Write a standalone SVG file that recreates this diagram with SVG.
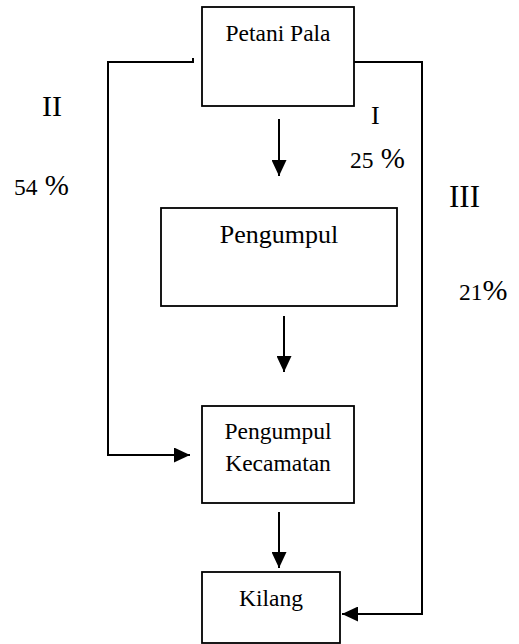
<svg xmlns="http://www.w3.org/2000/svg" width="519" height="644" viewBox="0 0 519 644">
<style>
  .box { fill: #fff; stroke: #000; stroke-width: 1.8; }
  .lbl { font-family: "Liberation Serif", Tinos, "Times New Roman", Times, "DejaVu Serif", "Noto Serif", serif; fill: #000; }
  .conn { fill: none; stroke: #000; stroke-width: 2; }
</style>
<defs>
  <marker id="ah" markerUnits="userSpaceOnUse" markerWidth="16" markerHeight="15" refX="16" refY="7.5" orient="auto">
    <path d="M0,0 L16,7.5 L0,15 z" fill="#000"/>
  </marker>
</defs>
<rect width="519" height="644" fill="#fff"/>
<g id="connectors">
  <line class="conn" x1="279" y1="119" x2="279" y2="176" marker-end="url(#ah)"/>
  <line class="conn" x1="284" y1="316" x2="284" y2="372" marker-end="url(#ah)"/>
  <line class="conn" x1="279" y1="512" x2="279" y2="568" marker-end="url(#ah)"/>
  <polyline class="conn" points="193,58 193,62 108,62 108,455 190,455" marker-end="url(#ah)"/>
  <polyline class="conn" points="354,62 422,62 422,614 342,614" marker-end="url(#ah)"/>
</g>
<g id="petani-pala">
  <rect class="box" x="202" y="7" width="152" height="99"/>
  <text class="lbl" x="278" y="41" font-size="23.5" text-anchor="middle">Petani Pala</text>
</g>
<g id="pengumpul">
  <rect class="box" x="161" y="208" width="236" height="98"/>
  <text class="lbl" x="279" y="243" font-size="26" text-anchor="middle">Pengumpul</text>
</g>
<g id="pengumpul-kecamatan">
  <rect class="box" x="202" y="406" width="152" height="97"/>
  <text class="lbl" x="278" y="439" font-size="23.5" text-anchor="middle">Pengumpul</text>
  <text class="lbl" x="278" y="471" font-size="23.5" text-anchor="middle">Kecamatan</text>
</g>
<g id="kilang">
  <rect class="box" x="202" y="572" width="138" height="71"/>
  <text class="lbl" x="271" y="606" font-size="23.5" text-anchor="middle">Kilang</text>
</g>
<g id="labels">
  <text class="lbl" x="42" y="116" font-size="30">II</text>
  <text class="lbl" x="14" y="195" font-size="23.5">54<tspan font-size="29"> %</tspan></text>
  <text class="lbl" x="371" y="124" font-size="26">I</text>
  <text class="lbl" x="350" y="168" font-size="23.5">25<tspan font-size="29"> %</tspan></text>
  <text class="lbl" x="449" y="207" font-size="31">III</text>
  <text class="lbl" x="459" y="300" font-size="23.5">21<tspan font-size="30">%</tspan></text>
</g>
</svg>
